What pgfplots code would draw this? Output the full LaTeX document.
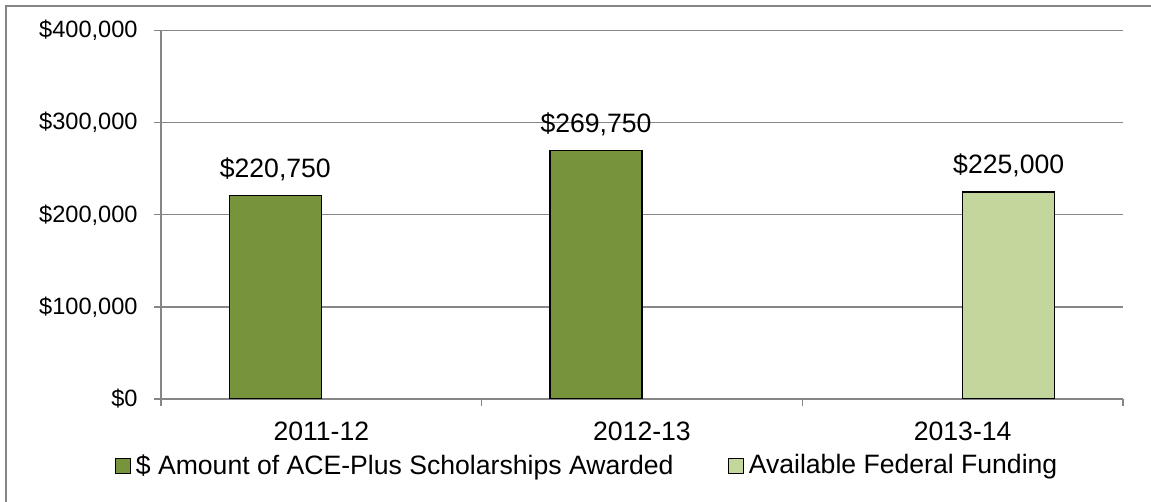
\documentclass[border=0pt]{standalone}
\usepackage{fontspec}
\setmainfont{Liberation Sans}
\usepackage{pgfplots}
\pgfplotsset{compat=1.18}
\definecolor{darkgreen}{HTML}{77933C}
\definecolor{lightgreen}{HTML}{C3D69B}
\definecolor{gridgray}{HTML}{868686}
\newcommand{\bigf}{\fontsize{13.3}{16}\selectfont}
\newcommand{\smallf}{\fontsize{11.8}{14}\selectfont}
\begin{document}
\fontsize{12}{14.4}\selectfont
\begin{tikzpicture}
\begin{axis}[
  name=ax,
  at={(0,0)}, anchor=south west,
  scale only axis,
  width=481pt, height=184.15pt,
  xmin=-0.5, xmax=2.5,
  ymin=0, ymax=400000,
  axis x line*=bottom, axis y line*=left,
  axis line style={gridgray, line width=0.6pt},
  tick align=outside,
  major tick length=3.5pt,
  tick style={gridgray, line width=0.6pt},
  xtick={-0.5,0.5,1.5,2.5},
  xticklabels={},
  extra x ticks={0,1,2},
  extra x tick labels={2011-12,2012-13,2013-14},
  extra x tick style={major tick length=0pt, grid=none, xticklabel style={anchor=base, yshift=-21pt, font=\bigf}},
  ytick={0,100000,200000,300000,400000},
  yticklabels={\$0,{\$100,000},{\$200,000},{\$300,000},{\$400,000}},
  yticklabel style={anchor=east, inner sep=0pt, xshift=-8pt, font=\smallf},
  scaled y ticks=false,
  ymajorgrids,
  grid style={gridgray, line width=0.6pt},
  ybar,
  bar width=0.287,
  /pgf/number format/assume math mode=true,
  nodes near coords={\$\pgfmathprintnumber[fixed,precision=0,1000 sep={,}]{\pgfplotspointmeta}},
  every node near coord/.append style={anchor=base, inner sep=0pt, yshift=9pt, text=black, font=\bigf},
  legend columns=2,
  legend style={draw=none, fill=none, font=\bigf, at={(axis description cs:0.4418,-0.182)}, anchor=center, inner sep=0pt,
    nodes={inner sep=0pt},
    /tikz/every odd column/.append style={column sep=2.5pt},
    /tikz/every even column/.append style={column sep=27pt}},
  legend image code/.code={\draw[#1, line width=0.6pt] (0pt,-3.75pt) rectangle (7.5pt,3.75pt);},
]
\addplot[fill=darkgreen, draw=black, line width=0.75pt, bar shift=-0.1435] coordinates {(0,220750) (1,269750)};
\addlegendentry{\$ Amount of ACE-Plus Scholarships Awarded}
\addplot[fill=lightgreen, draw=black, line width=0.75pt, bar shift=0.1435] coordinates {(2,225000)};
\addlegendentry{Available Federal Funding}
\end{axis}
\draw[gridgray, line width=0.6pt] ([shift={(-77.5pt,-60pt)}]ax.south west) -- ([shift={(-77.5pt,196.5pt)}]ax.south west) -- ([shift={(510pt,196.5pt)}]ax.south west);
\pgfresetboundingbox
\path ([shift={(-80.5pt,-51.5pt)}]ax.south west) rectangle ([shift={(495pt,199.5pt)}]ax.south west);
\end{tikzpicture}
\end{document}
